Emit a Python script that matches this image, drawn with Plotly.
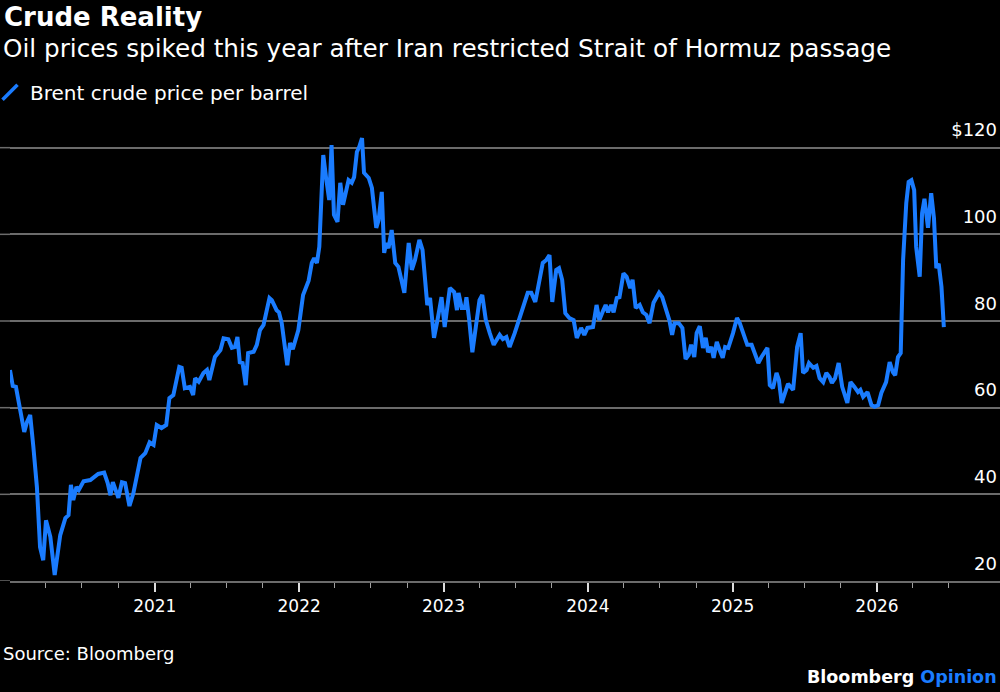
import plotly.graph_objects as go

dates = [
    "2020-01-01", "2020-01-08", "2020-01-16", "2020-01-23", "2020-01-29", "2020-02-06", "2020-02-13", "2020-02-21",
    "2020-02-29", "2020-03-09", "2020-03-17", "2020-03-25", "2020-04-01", "2020-04-12", "2020-04-23", "2020-04-30",
    "2020-05-07", "2020-05-20", "2020-05-28", "2020-06-03", "2020-06-09", "2020-06-17", "2020-06-23", "2020-07-05",
    "2020-07-22", "2020-08-11", "2020-08-26", "2020-09-04", "2020-09-11", "2020-09-17", "2020-09-23", "2020-10-01",
    "2020-10-10", "2020-10-18", "2020-10-29", "2020-11-08", "2020-11-26", "2020-12-08", "2020-12-19", "2020-12-29",
    "2021-01-06", "2021-01-18", "2021-01-30", "2021-02-07", "2021-02-17", "2021-03-04", "2021-03-10", "2021-03-18",
    "2021-03-31", "2021-04-08", "2021-04-13", "2021-04-22", "2021-05-04", "2021-05-13", "2021-05-19", "2021-06-02",
    "2021-06-16", "2021-06-24", "2021-07-06", "2021-07-15", "2021-07-23", "2021-07-29", "2021-08-04", "2021-08-11",
    "2021-08-19", "2021-08-25", "2021-09-08", "2021-09-16", "2021-09-24", "2021-10-03", "2021-10-18", "2021-10-24",
    "2021-11-05", "2021-11-11", "2021-11-18", "2021-11-27", "2021-12-02", "2021-12-09", "2021-12-16", "2021-12-30",
    "2022-01-11", "2022-01-25", "2022-02-02", "2022-02-08", "2022-02-15", "2022-02-21", "2022-03-03", "2022-03-10",
    "2022-03-18", "2022-03-24", "2022-03-30", "2022-04-08", "2022-04-15", "2022-04-22", "2022-05-06", "2022-05-14",
    "2022-05-20", "2022-05-27", "2022-06-02", "2022-06-09", "2022-06-14", "2022-06-26", "2022-07-04", "2022-07-15",
    "2022-07-21", "2022-07-29", "2022-08-04", "2022-08-09", "2022-08-15", "2022-08-23", "2022-09-01", "2022-09-09",
    "2022-09-24", "2022-10-05", "2022-10-13", "2022-10-21", "2022-11-01", "2022-11-09", "2022-11-21", "2022-11-28",
    "2022-12-08", "2022-12-16", "2022-12-27", "2023-01-04", "2023-01-10", "2023-01-17", "2023-01-28", "2023-02-04",
    "2023-02-08", "2023-02-16", "2023-02-24", "2023-02-28", "2023-03-07", "2023-03-15", "2023-03-25", "2023-04-02",
    "2023-04-09", "2023-04-18", "2023-04-28", "2023-05-08", "2023-05-23", "2023-05-31", "2023-06-09", "2023-06-17",
    "2023-06-30", "2023-07-11", "2023-07-21", "2023-08-02", "2023-08-11", "2023-08-21", "2023-08-27", "2023-09-09",
    "2023-09-18", "2023-09-26", "2023-10-03", "2023-10-13", "2023-10-20", "2023-10-28", "2023-11-05", "2023-11-15",
    "2023-11-26", "2023-12-04", "2023-12-15", "2023-12-23", "2023-12-31", "2024-01-14", "2024-01-23", "2024-01-30",
    "2024-02-09", "2024-02-15", "2024-02-21", "2024-02-29", "2024-03-06", "2024-03-14", "2024-03-21", "2024-03-31",
    "2024-04-08", "2024-04-17", "2024-04-23", "2024-05-01", "2024-05-11", "2024-05-19", "2024-05-28", "2024-06-05",
    "2024-06-15", "2024-06-29", "2024-07-07", "2024-07-17", "2024-07-25", "2024-08-01", "2024-08-07", "2024-08-18",
    "2024-08-27", "2024-09-04", "2024-09-12", "2024-09-18", "2024-09-26", "2024-10-02", "2024-10-10", "2024-10-18",
    "2024-10-25", "2024-10-31", "2024-11-08", "2024-11-14", "2024-11-22", "2024-11-29", "2024-12-07", "2024-12-13",
    "2024-12-21", "2025-01-02", "2025-01-12", "2025-01-19", "2025-01-30", "2025-02-07", "2025-02-18", "2025-03-01",
    "2025-03-07", "2025-03-15", "2025-03-30", "2025-04-05", "2025-04-13", "2025-04-22", "2025-04-28", "2025-05-05",
    "2025-05-15", "2025-05-21", "2025-06-03", "2025-06-13", "2025-06-22", "2025-06-28", "2025-07-07", "2025-07-13",
    "2025-07-24", "2025-08-01", "2025-08-09", "2025-08-18", "2025-08-26", "2025-09-03", "2025-09-09", "2025-09-17",
    "2025-09-26", "2025-10-05", "2025-10-18", "2025-10-26", "2025-11-05", "2025-11-14", "2025-11-20", "2025-11-27",
    "2025-12-08", "2025-12-18", "2025-12-26", "2026-01-04", "2026-01-12", "2026-01-20", "2026-01-24", "2026-02-02",
    "2026-02-10", "2026-02-16", "2026-02-23", "2026-03-02", "2026-03-08", "2026-03-16", "2026-03-22", "2026-03-29",
    "2026-04-05", "2026-04-10", "2026-04-19", "2026-04-25", "2026-05-01", "2026-05-10", "2026-05-18", "2026-05-25",
    "2026-05-31", "2026-06-06", "2026-06-13", "2026-06-19",
]

brent = [
    68.7, 65.0, 64.8, 61.0, 58.8, 54.4, 56.7, 58.3,
    51.0, 41.7, 27.8, 24.8, 34.0, 30.2, 21.4, 26.5,
    30.6, 34.5, 35.2, 42.2, 38.7, 41.7, 41.0, 43.0,
    43.3, 44.7, 45.0, 42.6, 39.8, 42.8, 41.5, 39.2,
    42.8, 42.6, 37.3, 40.3, 48.4, 49.5, 52.0, 51.4,
    56.0, 55.3, 56.0, 62.2, 62.9, 69.4, 69.2, 64.5,
    64.8, 62.9, 66.8, 66.0, 68.0, 68.7, 66.4, 71.7,
    73.3, 76.0, 75.8, 73.8, 74.0, 76.3, 70.5, 70.3,
    65.2, 72.6, 72.9, 74.5, 77.9, 79.1, 85.3, 84.8,
    82.5, 82.0, 79.5, 73.3, 69.8, 74.9, 73.5, 77.9,
    86.0, 89.3, 93.4, 94.5, 93.4, 97.1, 118.3, 113.2,
    107.9, 120.6, 104.5, 102.9, 111.9, 106.8, 112.5, 111.9,
    113.2, 119.0, 120.2, 122.2, 114.2, 113.0, 110.7, 101.5,
    103.3, 109.8, 95.7, 98.0, 96.8, 101.0, 93.4, 92.5,
    86.5, 98.0, 91.8, 94.1, 98.7, 96.4, 83.7, 85.3,
    76.1, 79.8, 85.5, 78.6, 83.7, 87.6, 86.7, 82.5,
    86.5, 83.0, 83.0, 85.5, 80.2, 72.8, 79.5, 84.8,
    86.0, 80.2, 77.2, 74.5, 76.8, 75.8, 76.3, 74.0,
    77.2, 80.2, 83.2, 86.5, 86.5, 84.4, 87.2, 93.4,
    94.1, 95.2, 84.4, 91.8, 92.2, 89.5, 81.8, 80.7,
    80.2, 76.1, 78.4, 76.8, 78.4, 78.6, 83.7, 80.2,
    82.5, 83.7, 82.0, 83.7, 82.0, 85.3, 85.5, 91.0,
    90.2, 87.6, 89.5, 83.0, 83.7, 82.0, 81.4, 79.5,
    84.2, 86.5, 85.5, 82.5, 80.2, 76.8, 79.5, 79.5,
    78.4, 71.2, 72.2, 74.5, 71.7, 77.2, 78.8, 73.8,
    76.1, 72.8, 74.0, 71.5, 75.2, 73.3, 71.5, 74.0,
    73.8, 77.2, 80.7, 79.5, 76.3, 74.5, 74.5, 71.7,
    70.3, 71.7, 73.8, 65.2, 64.5, 68.0, 66.4, 61.1,
    64.1, 65.5, 64.1, 74.0, 77.2, 68.0, 68.7, 70.3,
    69.2, 69.6, 66.8, 65.9, 68.0, 67.1, 65.7, 66.8,
    70.3, 64.8, 61.1, 65.9, 64.8, 63.6, 64.1, 62.5,
    63.6, 60.6, 60.2, 60.6, 63.4, 64.8, 65.9, 70.5,
    68.2, 67.5, 71.7, 72.6, 94.1, 107.2, 112.1, 112.5,
    110.2, 97.1, 90.2, 104.9, 108.2, 101.5, 109.5, 103.8,
    92.2, 93.2, 87.9, 78.6,
]

year_ticks = ["2021-01-01", "2022-01-01", "2023-01-01", "2024-01-01", "2025-01-01", "2026-01-01"]
year_labels = ["2021", "2022", "2023", "2024", "2025", "2026"]
quarter_ticks = [
    "2020-04-01", "2020-07-01", "2020-10-01",
    "2021-04-01", "2021-07-01", "2021-10-01",
    "2022-04-01", "2022-07-01", "2022-10-01",
    "2023-04-01", "2023-07-01", "2023-10-01",
    "2024-04-01", "2024-07-01", "2024-10-01",
    "2025-04-01", "2025-07-01", "2025-10-01",
    "2026-04-01", "2026-07-01", "2026-10-01",
]

y_tickvals = [20, 40, 60, 80, 100, 120]
y_ticktext = ["20", "40", "60", "80", "100", "$120"]

series_name = "Brent crude price per barrel"
title_text = "Crude Reality"
subtitle_text = "Oil prices spiked this year after Iran restricted Strait of Hormuz passage"
source_text = "Source: Bloomberg"

BLUE = "#1a7cff"
GRID = "#6b6b6b"
FONT = "DejaVu Sans"

W, H = 1000, 692
ML, MR, MT, MB = 10, 0, 113, 111
PW = W - ML - MR
PH = H - MT - MB

fig = go.Figure()
fig.add_trace(go.Scatter(
    x=dates, y=brent, mode="lines",
    line=dict(color=BLUE, width=4, shape="linear"),
    showlegend=False, hoverinfo="skip",
))
# legend entry with slash symbol
fig.add_trace(go.Scatter(
    x=[None], y=[None], mode="markers", name=series_name,
    marker=dict(symbol="line-ne", size=15, color=BLUE, line=dict(color=BLUE, width=3.5)),
    showlegend=True,
))

fig.update_layout(
    width=W, height=H,
    paper_bgcolor="#000000", plot_bgcolor="#000000",
    margin=dict(l=ML, r=MR, t=MT, b=MB),
    font=dict(family=FONT, color="#ffffff", size=18),
    showlegend=True,
    legend=dict(
        x=0, y=0.895, xref="container", yref="container", xanchor="left", yanchor="top",
        orientation="h", font=dict(family=FONT, size=20, color="#ffffff"),
        bgcolor="rgba(0,0,0,0)", itemwidth=30, traceorder="normal",
        indentation=-10,
    ),
    xaxis=dict(
        type="date", range=["2020-01-01", "2026-11-08"],
        showgrid=False, zeroline=False,
        showline=True, linecolor=GRID, linewidth=1.5,
        tickmode="array", tickvals=year_ticks, ticktext=year_labels,
        ticks="outside", ticklen=9, tickwidth=1.5, tickcolor="#dddddd",
        tickfont=dict(family=FONT, size=17, color="#ffffff"),
        minor=dict(tickmode="array", tickvals=quarter_ticks, ticks="outside", ticklen=5,
                   tickwidth=1.2, tickcolor="#a0a0a0", showgrid=False),
        fixedrange=True,
    ),
    yaxis=dict(
        range=[20, 128], side="right",
        tickmode="array", tickvals=y_tickvals, ticktext=y_ticktext,
        ticklabelposition="inside top", ticklabelshift=-5,
        showgrid=True, gridcolor=GRID, gridwidth=1.5,
        zeroline=False, showline=False, ticks="",
        tickfont=dict(family=FONT, size=18, color="#ffffff"),
        fixedrange=True,
    ),
)

# gridlines continue to the left edge of the page
for v in y_tickvals:
    fig.add_shape(
        type="line", xref="paper", yref="y", x0=-ML / PW, x1=0, y0=v, y1=v,
        line=dict(color=GRID, width=1.5), layer="below",
    )

def py(pix):
    return (H - MB - pix) / PH

def px(pix):
    return (pix - ML) / PW

texts = [
    ("<b>" + title_text + "</b>", 2, 17, 26),
    (subtitle_text, 1, 48, 24.7),
    (source_text, 1, 653, 18),
]
for txt, x0, y0, size in texts:
    fig.add_annotation(
        text=txt, xref="paper", yref="paper", x=px(x0), y=py(y0),
        showarrow=False, xanchor="left", yanchor="middle",
        font=dict(size=size, family=FONT, color="#ffffff"),
    )
fig.add_annotation(
    text="<b>Bloomberg <span style='color:" + BLUE + "'>Opinion</span></b>",
    xref="paper", yref="paper", x=px(999), y=py(677),
    showarrow=False, xanchor="right", yanchor="middle",
    font=dict(size=17.5, family=FONT, color="#ffffff"),
)

fig.write_html("out.html")
